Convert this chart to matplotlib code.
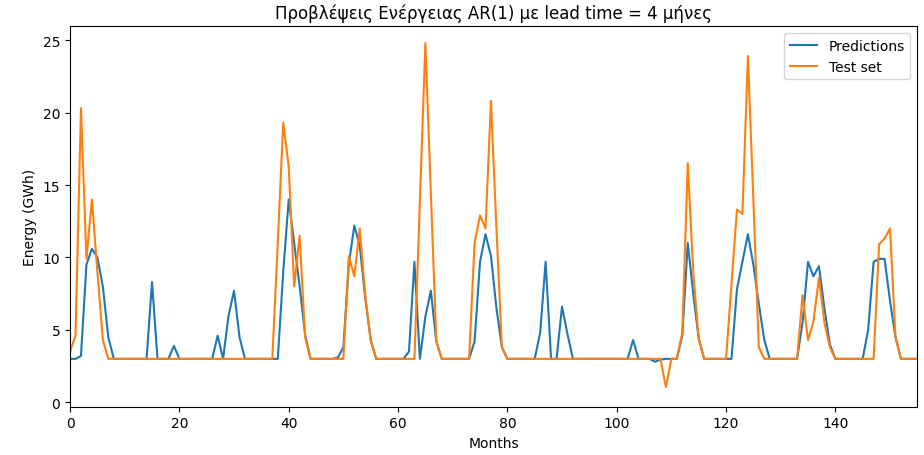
import matplotlib
matplotlib.use("Agg")
import matplotlib.pyplot as plt
import numpy as np

# AR(1) forecasts vs. observed monthly energy (GWh), lead time 4 months
predictions = [
    3.0, 3.0, 3.2, 9.5, 10.6, 10.0, 8.0, 4.5, 3.0, 3.0,
    3.0, 3.0, 3.0, 3.0, 3.0, 8.3, 3.0, 3.0, 3.0, 3.9,
    3.0, 3.0, 3.0, 3.0, 3.0, 3.0, 3.0, 4.6, 3.0, 6.0,
    7.7, 4.5, 3.0, 3.0, 3.0, 3.0, 3.0, 3.0, 3.0, 9.0,
    14.0, 11.0, 8.0, 4.7, 3.0, 3.0, 3.0, 3.0, 3.0, 3.1,
    3.8, 9.5, 12.2, 10.8, 7.2, 4.3, 3.0, 3.0, 3.0, 3.0,
    3.0, 3.0, 3.5, 9.7, 3.0, 5.9, 7.7, 4.2, 3.0, 3.0,
    3.0, 3.0, 3.0, 3.0, 4.2, 9.7, 11.6, 10.1, 6.5, 3.8,
    3.0, 3.0, 3.0, 3.0, 3.0, 3.0, 4.8, 9.7, 3.0, 3.0,
    6.6, 4.7, 3.0, 3.0, 3.0, 3.0, 3.0, 3.0, 3.0, 3.0,
    3.0, 3.0, 3.0, 4.3, 3.0, 3.0, 3.0, 2.8, 2.95, 3.0,
    3.0, 3.0, 4.6, 11.0, 7.5, 4.4, 3.0, 3.0, 3.0, 3.0,
    3.0, 3.0, 7.8, 9.7, 11.6, 9.5, 6.8, 4.3, 3.0, 3.0,
    3.0, 3.0, 3.0, 3.0, 5.5, 9.7, 8.7, 9.4, 6.5, 4.0,
    3.0, 3.0, 3.0, 3.0, 3.0, 3.0, 5.0, 9.7, 9.9, 9.9,
    7.0, 4.5, 3.0, 3.0, 3.0, 3.0,
]

test_set = [
    3.5, 4.6, 20.3, 9.9, 14.0, 9.0, 4.3, 3.0, 3.0, 3.0,
    3.0, 3.0, 3.0, 3.0, 3.0, 3.0, 3.0, 3.0, 3.0, 3.0,
    3.0, 3.0, 3.0, 3.0, 3.0, 3.0, 3.0, 3.0, 3.0, 3.0,
    3.0, 3.0, 3.0, 3.0, 3.0, 3.0, 3.0, 3.0, 11.0, 19.3,
    16.3, 8.0, 11.5, 4.5, 3.0, 3.0, 3.0, 3.0, 3.0, 3.0,
    3.0, 10.1, 8.7, 12.0, 7.4, 4.3, 3.0, 3.0, 3.0, 3.0,
    3.0, 3.0, 3.0, 3.0, 14.0, 24.8, 14.5, 4.2, 3.0, 3.0,
    3.0, 3.0, 3.0, 3.0, 11.0, 12.9, 12.0, 20.8, 12.0, 3.8,
    3.0, 3.0, 3.0, 3.0, 3.0, 3.0, 3.0, 3.0, 3.0, 3.0,
    3.0, 3.0, 3.0, 3.0, 3.0, 3.0, 3.0, 3.0, 3.0, 3.0,
    3.0, 3.0, 3.0, 3.0, 3.0, 3.0, 3.0, 3.0, 3.0, 1.05,
    3.0, 3.0, 4.8, 16.5, 9.0, 4.4, 3.0, 3.0, 3.0, 3.0,
    3.0, 8.2, 13.3, 13.0, 23.9, 14.0, 3.8, 3.0, 3.0, 3.0,
    3.0, 3.0, 3.0, 3.0, 7.4, 4.3, 5.6, 8.6, 5.5, 3.8,
    3.0, 3.0, 3.0, 3.0, 3.0, 3.0, 3.0, 3.0, 10.9, 11.3,
    12.0, 4.5, 3.0, 3.0, 3.0, 3.0,
]

months = np.arange(len(test_set))

fig = plt.figure(figsize=(9.24, 4.56), dpi=100)
ax = fig.add_axes([0.0758, 0.106, 0.917, 0.834])
ax.plot(months, predictions, label="Predictions")
ax.plot(months, test_set, label="Test set")
ax.set_xlim(0, months[-1])
ax.set_ylim(-0.3, 25.95)
ax.set_title("Προβλέψεις Ενέργειας AR(1) με lead time = 4 μήνες")
ax.set_xlabel("Months")
ax.set_ylabel("Energy (GWh)")
ax.legend(loc="upper right")
fig.savefig("out.png", dpi=100)
